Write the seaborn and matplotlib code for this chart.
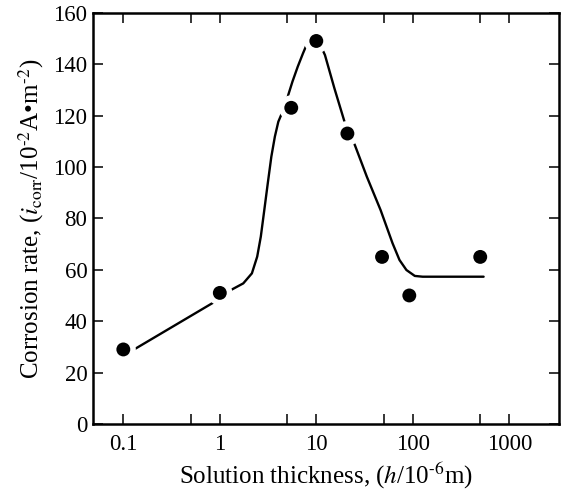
import matplotlib
matplotlib.use("Agg")
import matplotlib.pyplot as plt
import seaborn as sns
from matplotlib.ticker import FixedLocator, NullFormatter

# Measured corrosion rate vs. electrolyte film thickness
thickness = [0.1, 1.0, 5.5, 10.0, 21.0, 48.0, 92.0, 500.0]
rate = [29, 51, 123, 149, 113, 65, 50, 65]

# Hand-drawn trend curve through the measurements
trend_x = [0.132, 0.89, 1.0, 1.30, 1.75, 2.15, 2.44, 2.66, 2.89, 3.14, 3.42,
           3.72, 4.04, 4.40, 4.8, 5.12, 5.66, 6.42, 7.28, 7.91, 9.0, 10.0,
           11.0, 12.3, 15.4, 19.6, 21.3, 25.1, 33.4, 46.4, 61.7, 72.8, 85.9,
           104.9, 126.5, 542.0]
trend_y = [29.2, 47.6, 49.5, 52.1, 54.7, 58.6, 65.1, 72.9, 83.2, 93.6, 104.0,
           111.8, 117.6, 120.9, 124.0, 128.0, 133.2, 139.0, 144.2, 147.4, 149.3, 149.5,
           147.5, 143.5, 130.6, 117.6, 113.5, 108.5, 96.2, 83.2, 70.3, 63.8, 59.9,
           57.6, 57.3, 57.3]

major_ticks = [0.1, 1, 10, 100, 1000]
major_labels = ["0.1", "1", "10", "100", "1000"]
minor_ticks = [0.5, 5, 50, 500]
y_ticks = [0, 20, 40, 60, 80, 100, 120, 140, 160]

sns.set_theme(style="ticks")
plt.rcParams.update({
    "font.family": ["Liberation Serif", "DejaVu Serif"],
    "mathtext.fontset": "stix",
    "axes.edgecolor": "black",
    "axes.linewidth": 1.8,
    "xtick.color": "black",
    "ytick.color": "black",
    "text.color": "black",
    "axes.labelcolor": "black",
})

W, H = 562, 494
fig = plt.figure(figsize=(W / 100, H / 100), dpi=100)
fig.patch.set_facecolor("white")
ax = fig.add_axes([93 / W, 1 - 424 / H, (559 - 93) / W, (424 - 12.7) / H])
ax.set_facecolor("white")

sns.lineplot(x=trend_x, y=trend_y, ax=ax, color="black", linewidth=1.7,
             sort=False, estimator=None, zorder=2)
# white halo so the curve breaks around each point
sns.scatterplot(x=thickness, y=rate, ax=ax, s=18 ** 2, color="white",
                edgecolor="none", linewidth=0, zorder=3)
sns.scatterplot(x=thickness, y=rate, ax=ax, s=10 ** 2, color="black",
                edgecolor="none", linewidth=0, zorder=4)

ax.set_xscale("log")
ax.set_xlim(0.0485, 3275)
ax.set_ylim(0, 160)

ax.xaxis.set_major_locator(FixedLocator(major_ticks))
ax.set_xticklabels(major_labels)
ax.xaxis.set_minor_locator(FixedLocator(minor_ticks))
ax.xaxis.set_minor_formatter(NullFormatter())
ax.set_yticks(y_ticks)
ax.set_yticklabels([str(v) for v in y_ticks])

ax.tick_params(which="both", direction="in", top=True, right=True,
               length=7.5, width=1.1, labelsize=16.5)
ax.tick_params(axis="x", pad=7)
ax.tick_params(axis="y", pad=4)

ax.set_xlabel(r"Solution thickness, ($h$/10$^{\text{-}6}$m)", fontsize=18, labelpad=4)
ax.set_ylabel(r"Corrosion rate, ($i_{\mathrm{corr}}$/10$^{\text{-}2}$A•m$^{\text{-}2}$)",
              fontsize=18, labelpad=5)

for side in ax.spines.values():
    side.set_visible(True)
    side.set_linewidth(1.8)
    side.set_color("black")

fig.savefig("out.png", dpi=100, facecolor="white")
